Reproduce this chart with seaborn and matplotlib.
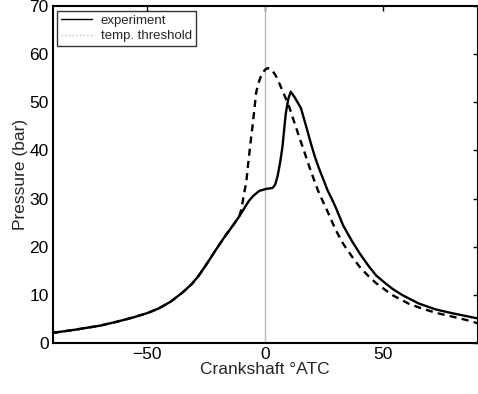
import numpy as np
import pandas as pd
import matplotlib
matplotlib.use("Agg")
import matplotlib.pyplot as plt
from matplotlib.lines import Line2D
import seaborn as sns

# Experiment curve (crank angle in deg ATC, pressure in bar)
exp_x = [-90, -80, -70, -63, -56, -50, -45, -40, -35, -31, -28, -24, -21, -17, -14,
         -11, -8, -6.8, -5, -2.5, 0.3, 3.1, 4.2, 5.2, 6.3, 7.3, 8.0, 8.7, 9.8, 10.8, 12.5,
         15.1, 17.2, 19.3, 21, 22.8, 24.9, 26.3, 28.3, 29.8, 33, 36.8, 40, 43.9, 47, 50.9,
         54, 57.9, 61, 65, 72, 79, 85, 90]
exp_y = [2.1, 2.8, 3.6, 4.4, 5.3, 6.2, 7.2, 8.6, 10.5, 12.3, 14.1, 17.0, 19.3, 22.2, 24.2,
         26.3, 28.7, 29.6, 30.6, 31.6, 32.0, 32.2, 32.9, 34.6, 37.5, 40.8, 44.3, 47.7, 50.8, 52.2, 51.0,
         48.8, 45.2, 41.5, 38.7, 36.2, 33.6, 31.8, 29.8, 28.2, 24.4, 21.1, 18.6, 15.9, 14.0, 12.4,
         11.2, 10.0, 9.2, 8.2, 7.0, 6.2, 5.6, 5.1]

# Temperature-threshold model curve
thr_x = [-90, -80, -70, -63, -56, -50, -45, -40, -35, -31, -28, -24, -21, -17, -14,
         -11, -10, -9, -8, -7.5, -6.5, -5.4, -4.5, -3.9, -3, -2, -1, 0, 1, 2, 3, 4.5, 5.9,
         8, 10.1, 12.2, 14.3, 16.5, 18.6, 20.7, 22.8, 24.5, 26.3, 29.8, 33, 36.8, 40, 43.9,
         47, 50.9, 54, 57.9, 61, 65, 72, 79, 85, 90]
thr_y = [2.1, 2.8, 3.6, 4.4, 5.3, 6.2, 7.2, 8.6, 10.5, 12.3, 14.1, 17.0, 19.3, 22.2, 24.2,
         26.3, 28.0, 31.0, 33.5, 36.0, 40.5, 45.0, 49.0, 51.9, 53.8, 55.2, 56.2, 56.8, 57.1, 57.0, 56.6, 55.5, 54.0,
         51.6, 49.1, 46.0, 42.9, 39.8, 36.7, 33.8, 31.1, 29.3, 27.4, 23.5, 20.6, 17.9, 15.8, 13.8,
         12.4, 11.0, 9.9, 8.9, 8.1, 7.4, 6.3, 5.5, 4.8, 4.1]

series_labels = ["experiment", "temp. threshold"]
x_ticks = [-50, 0, 50]
y_ticks = [0, 10, 20, 30, 40, 50, 60, 70]

sns.set_style("white")
plt.rcParams["font.family"] = ["Liberation Sans", "DejaVu Sans"]

fig = plt.figure(figsize=(4.78, 3.94), dpi=100)
ax = fig.add_axes([52.7 / 478, 51 / 394, (477.8 - 52.7) / 478, 337 / 394])

ax.axvline(0, color="#b8b8b8", lw=1.0, zorder=1)

df_exp = pd.DataFrame({"x": exp_x, "y": exp_y})
df_thr = pd.DataFrame({"x": thr_x, "y": thr_y})
sns.lineplot(data=df_exp, x="x", y="y", ax=ax, color="black", lw=1.7,
             sort=False, estimator=None, zorder=3)
sns.lineplot(data=df_thr, x="x", y="y", ax=ax, color="black", lw=1.7,
             linestyle=(0, (3.0, 2.2)), sort=False, estimator=None, zorder=2)

ax.set_xlim(-90, 90)
ax.set_ylim(0, 70)
ax.set_xticks(x_ticks)
ax.set_xticklabels(["\u221250", "0", "50"])
ax.set_yticks(y_ticks)
ax.set_xlabel("Crankshaft \u00b0ATC", fontsize=12.5, labelpad=0)
ax.set_ylabel("Pressure (bar)", fontsize=12.5, labelpad=1)
ax.tick_params(direction="in", length=3.5, width=1, labelsize=12.5,
               top=True, right=True, pad=3, colors="black")
for s in ax.spines.values():
    s.set_color("black")
    s.set_linewidth(1.5)
    s.set_visible(True)

handles = [Line2D([], [], color="black", lw=1.0),
           Line2D([], [], color="#c0c0c0", lw=1.0, linestyle=":")]
leg = ax.legend(handles, series_labels, loc="upper left", fontsize=9.5,
                frameon=True, fancybox=False, borderpad=0.3, labelspacing=0.25,
                handlelength=2.3, handletextpad=0.7, borderaxespad=0.35)
leg.get_frame().set_edgecolor("black")
leg.get_frame().set_linewidth(1.0)

fig.savefig("out.png", dpi=100)
